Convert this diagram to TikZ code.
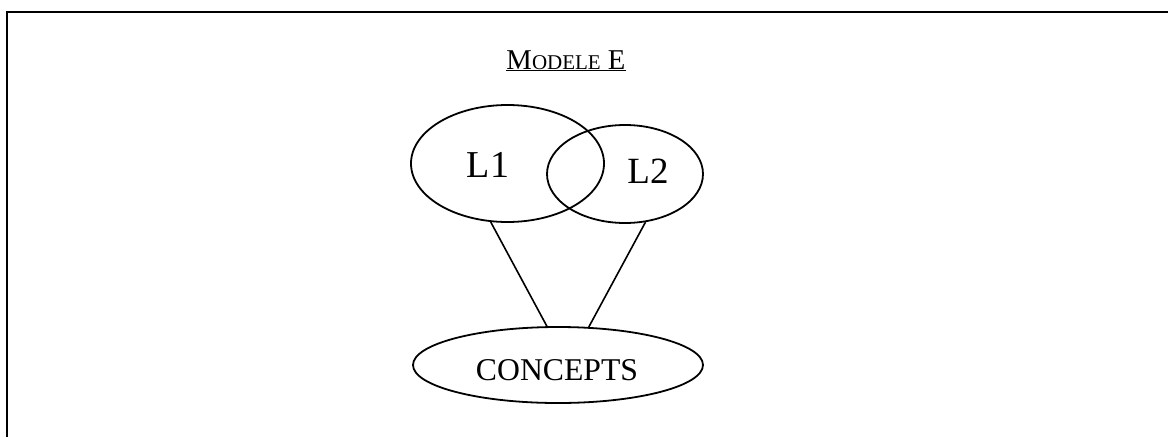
\documentclass[tikz,border=0pt]{standalone}
\usepackage{fontspec}
\setmainfont{Liberation Serif}
\usetikzlibrary{shapes.geometric}
\begin{document}
\begin{tikzpicture}[x=1pt,y=-1pt,
  ell/.style={draw,ellipse,line width=1.8pt,inner sep=0pt},
  lbl/.style={anchor=base,inner sep=0pt},
  conn/.style={line width=1.6pt}]
\useasboundingbox (0,0) rectangle (1168,437);
% frame
\draw[line width=2.8pt] (7,437) -- (7,12) -- (1168,12);
% title
\node[lbl] (title) at (566,69) {\fontsize{28.7}{30}\selectfont\underline{M{\fontsize{21}{22}\selectfont ODELE} E}};
% ellipses
\node[ell,minimum width=193pt,minimum height=117pt] (L1) at (507.5,163.5) {};
\node[ell,minimum width=156pt,minimum height=98pt] (L2) at (625,174) {};
\node[ell,minimum width=290pt,minimum height=76pt] (C) at (558,365) {};
% labels
\node[lbl] (t1) at (488,177) {\fontsize{38}{40}\selectfont L1};
\node[lbl] (t2) at (648,183) {\fontsize{37}{40}\selectfont L2};
\node[lbl] (tc) at (557,380) {\fontsize{31.7}{34}\selectfont CONCEPTS};
% connectors
\draw[conn] (L1.-106.7) -- (C.106.6);
\draw[conn] (L2.-67.8) -- (C.51.9);
\end{tikzpicture}
\end{document}
